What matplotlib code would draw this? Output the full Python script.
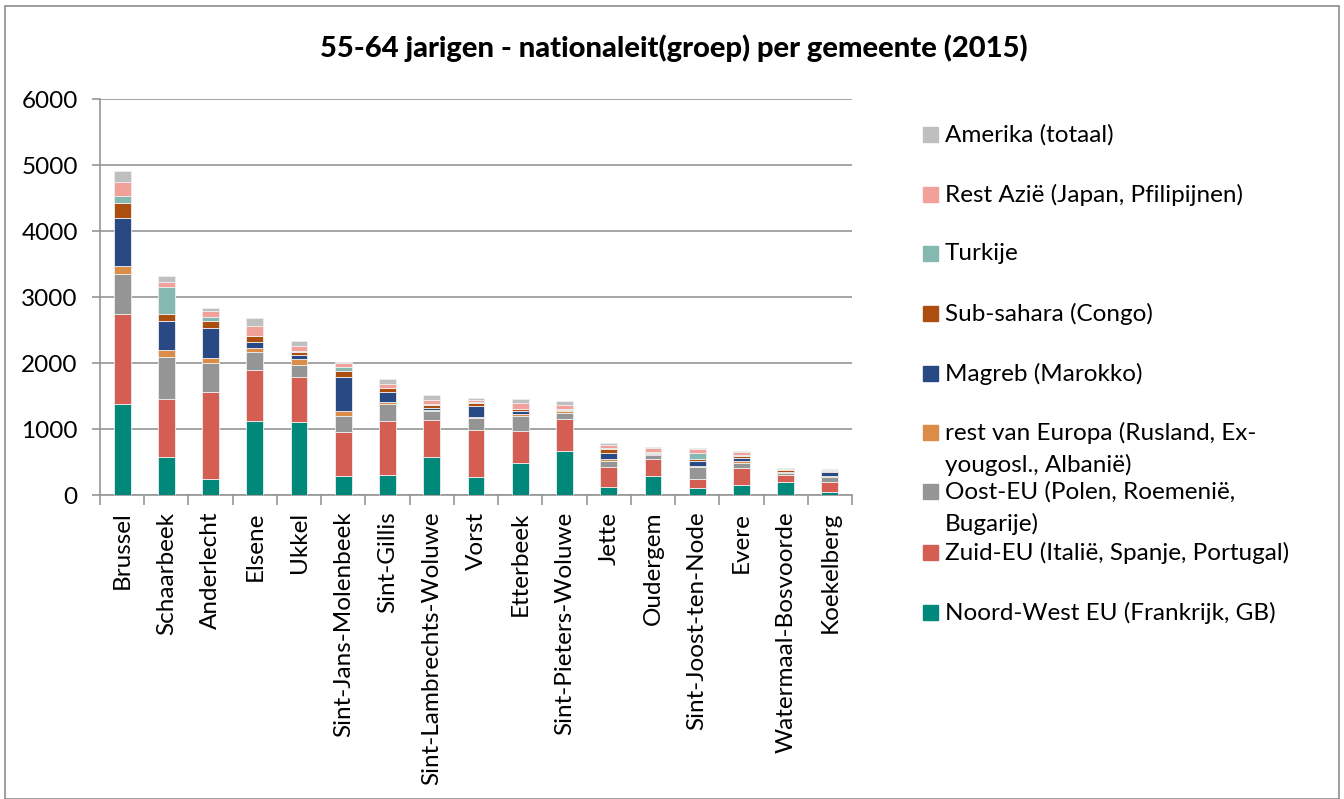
import numpy as np
import matplotlib
matplotlib.use('Agg')
import matplotlib.pyplot as plt
from matplotlib.patches import Rectangle

plt.rcParams['font.family'] = ['Lato', 'DejaVu Sans']

# ── Data ─────────────────────────────────────────────────────
gemeenten = ["Brussel", "Schaarbeek", "Anderlecht", "Elsene", "Ukkel",
             "Sint-Jans-Molenbeek", "Sint-Gillis", "Sint-Lambrechts-Woluwe",
             "Vorst", "Etterbeek", "Sint-Pieters-Woluwe", "Jette", "Oudergem",
             "Sint-Joost-ten-Node", "Evere", "Watermaal-Bosvoorde", "Koekelberg"]

noord_west = [1380, 575, 245, 1120, 1105, 295, 305, 580, 275, 490, 660, 125, 295, 100, 150, 190, 50]
zuid_eu    = [1370, 885, 1310, 780, 690, 665, 820, 550, 715, 480, 495, 295, 245, 150, 255, 110, 150]
oost_eu    = [595, 630, 445, 270, 180, 235, 255, 145, 175, 230, 95, 90, 60, 170, 75, 30, 70]
rest_eur   = [130, 100, 75, 60, 80, 75, 25, 20, 10, 30, 20, 35, 5, 15, 30, 15, 15]
magreb     = [715, 445, 450, 90, 60, 525, 150, 20, 170, 40, 10, 95, 10, 85, 50, 5, 70]
subsahara  = [240, 100, 110, 85, 50, 90, 60, 50, 50, 30, 15, 50, 25, 25, 25, 30, 15]
turkije    = [100, 415, 60, 10, 10, 55, 10, 10, 10, 10, 10, 15, 5, 95, 15, 5, 10]
rest_azie  = [205, 80, 100, 145, 80, 65, 55, 60, 40, 90, 60, 60, 65, 50, 50, 15, 5]
amerika    = [175, 85, 40, 125, 85, 15, 80, 85, 30, 50, 65, 20, 10, 15, 20, 10, 15]

series = [noord_west, zuid_eu, oost_eu, rest_eur, magreb, subsahara, turkije, rest_azie, amerika]
labels = ["Noord-West EU (Frankrijk, GB)",
          "Zuid-EU (Italië, Spanje, Portugal)",
          "Oost-EU (Polen, Roemenië,\nBugarije)",
          "rest van Europa (Rusland, Ex-\nyougosl., Albanië)",
          "Magreb (Marokko)",
          "Sub-sahara (Congo)",
          "Turkije",
          "Rest Azië (Japan, Pfilipijnen)",
          "Amerika (totaal)"]
colors = ["#00897b", "#d45e51", "#959595", "#db8c47", "#284983",
          "#ac4e0f", "#86b8b2", "#f2a19a", "#bfbfbf"]

# ── Plot ─────────────────────────────────────────────────────
fig = plt.figure(figsize=(13.44, 7.99), dpi=100)
W, H = 1344, 799
ax = fig.add_axes([100 / W, 1 - 495 / H, (852 - 100) / W, (495 - 99) / H])

x = np.arange(len(gemeenten))
bottom = np.zeros(len(gemeenten))
for vals, col in zip(series, colors):
    ax.bar(x, vals, width=0.38, bottom=bottom, color=col,
           edgecolor="#eeeeee", linewidth=0.6, zorder=3)
    bottom += np.array(vals)

ax.set_xlim(-0.5, len(gemeenten) - 0.5)
ax.set_ylim(0, 6000)
ax.set_yticks(range(0, 6001, 1000))
ax.yaxis.grid(True, color="#969696", linewidth=1.2, zorder=0)
ax.set_axisbelow(True)

ax.set_xticks(x)
ax.set_xticklabels(gemeenten, rotation=90, fontsize=17.5)
ax.tick_params(axis="x", length=0, pad=12)
ax.set_xticks(np.arange(-0.5, len(gemeenten)), minor=True)
ax.tick_params(axis="x", which="minor", length=7, color="#969696", width=1.2)
ax.tick_params(axis="y", labelsize=17.5, length=6, color="#969696", width=1.2, pad=10)

for s in ["top", "right"]:
    ax.spines[s].set_visible(False)
for s in ["left", "bottom"]:
    ax.spines[s].set_color("#969696")
    ax.spines[s].set_linewidth(1.2)

fig.text(674 / W, 1 - 48 / H,
         "55-64 jarigen - nationaleit(groep) per gemeente (2015)",
         ha="center", va="center", fontsize=21, fontweight="black")

# legend, top entry = last series
row_y = [135, 195, 254, 314, 374, 433, 492, 553, 613]
for i, (lab, col) in enumerate(zip(labels[::-1], colors[::-1])):
    yc = row_y[i]
    fig.patches.append(Rectangle((923 / W, 1 - (yc + 7) / H), 15 / W, 15 / H,
                                 transform=fig.transFigure, color=col))
    fig.text(945 / W, 1 - (yc - 11) / H, lab, ha="left", va="top",
             fontsize=17.5, linespacing=1.55)

# outer border
fig.patches.append(Rectangle((5 / W, 0), (W - 10) / W, 1 - 6 / H, fill=False,
                             transform=fig.transFigure, edgecolor="#8c8c8c", linewidth=1.2))

plt.savefig("out.png", dpi=100)
plt.close()
